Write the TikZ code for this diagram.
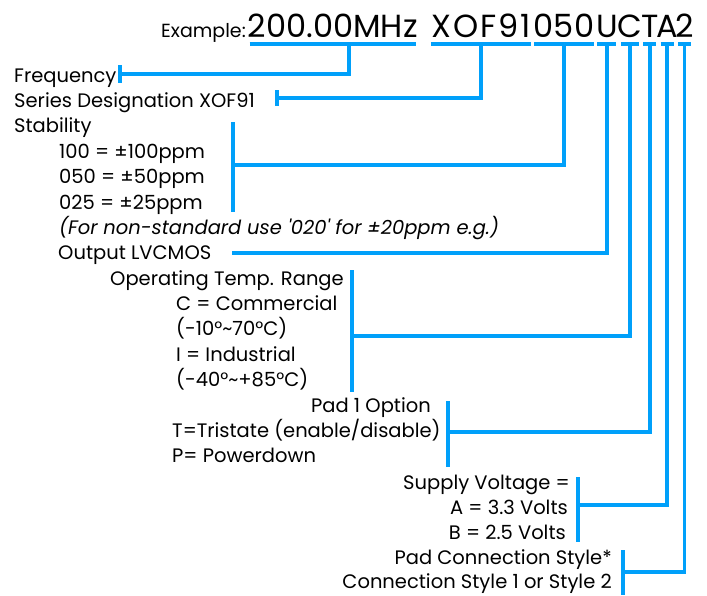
\documentclass[tikz,border=0pt]{standalone}
\usepackage{fontspec}
\setmainfont{Poppins}[Ligatures=TeXOff]
\usetikzlibrary{calc}
\definecolor{cblue}{RGB}{0,160,250}
\begin{document}
\begin{tikzpicture}[x=1pt,y=-1pt,
  lbl/.style={inner sep=0pt, anchor=base west, font=\fontsize{19.5}{22}\selectfont},
  lblr/.style={lbl, anchor=base east},
  code/.style={inner xsep=0pt, inner ysep=7pt, text depth=0pt, anchor=base west, font=\fontsize{32}{36}\selectfont},
  ln/.style={draw=cblue, line width=3.6pt},
]
\useasboundingbox (0,0) rectangle (707,595);
% part number
\node[code] (s1) at (248,37) {\makebox[169pt]{200.00MHz}};
\node[code] (s2) at ($(s1.base east)+(12,0)$) {\makebox[103pt]{\addfontfeature{LetterSpace=6}XOF91}};
\node[code] (s3) at (s2.base east) {\makebox[62pt]{050}};
\node[code] (s4) at (s3.base east) {\makebox[23pt]{U}};
\node[code] (s5) at (s4.base east) {\makebox[22pt]{C}};
\node[code] (s6) at (s5.base east) {\makebox[17pt]{T}};
\node[code] (s7) at (s6.base east) {\makebox[17pt]{A}};
\node[code] (s8) at (s7.base east) {\makebox[17pt]{2}};
\node[lbl, anchor=base east, font=\fontsize{19}{22}\selectfont] (ex) at ($(s1.base west)+(-2,0)$) {Example:};
\foreach \s in {s1,s2,s3}
  \draw[ln] ([xshift=1.5pt]\s.south west) -- ([xshift=-1.5pt]\s.south east);
\foreach \s in {s4,s5,s6,s7,s8}
  \draw[ln] ([xshift=2.2pt]\s.south west) -- ([xshift=-2.2pt]\s.south east);
% labels
\node[lbl] (fq) at (14,82) {Frequency};
\node[lbl] (sd) at (14,107) {Series Designation XOF91};
\node[lbl] (st) at (14,132) {Stability};
\node[lbl] (st1) at (59,158) {100 = ±100ppm};
\node[lbl] (st2) at (59,183) {050 = ±50ppm};
\node[lbl] (st3) at (59,209) {025 = ±25ppm};
\node[lbl] (st4) at (59,234) {\itshape (For non-standard use '020' for ±20ppm e.g.)};
\node[lbl] (out) at (58,259) {Output LVCMOS};
\node[lbl] (tp) at (110,285) {Operating Temp. Range};
\node[lbl] (tp1) at (176,310) {C = Commercial};
\node[lbl] (tp2) at (176,335) {(-10°\textasciitilde70°C)};
\node[lbl] (tp3) at (176,361) {I = Industrial};
\node[lbl] (tp4) at (176,386) {(-40°\textasciitilde+85°C)};
\node[lblr] (pd) at (431,412) {Pad 1 Option};
\node[lbl] (pd1) at (172,437) {T=Tristate (enable/disable)};
\node[lbl] (pd2) at (172,462) {P= Powerdown};
\node[lblr] (sv) at (570,489) {Supply Voltage =};
\node[lblr] (sv1) at (568,514) {A = 3.3 Volts};
\node[lblr] (sv2) at (566,539) {B = 2.5 Volts};
\node[lblr] (pc) at (612,564) {Pad Connection Style*};
\node[lblr] (pc1) at (612,588) {Connection Style 1 or Style 2};
% bars / ticks
\coordinate (fqt) at (120,74);
\coordinate (sdt) at (277,98);
\coordinate (stb) at (233,165);
\coordinate (outc) at (232,253);
\coordinate (tmp) at (352,336);
\coordinate (pad) at (448,432);
\coordinate (sup) at (578,505);
\coordinate (pcs) at (623,572);
\draw[ln] ($(fqt)+(0,-9)$) -- ($(fqt)+(0,9)$);
\draw[ln] ($(sdt)+(0,-8)$) -- ($(sdt)+(0,8)$);
\draw[ln] ($(stb)+(0,-43)$) -- ($(stb)+(0,47)$);
\draw[ln] ($(tmp)+(0,-66)$) -- ($(tmp)+(0,56)$);
\draw[ln] ($(pad)+(0,-31)$) -- ($(pad)+(0,35)$);
\draw[ln] ($(sup)+(0,-28)$) -- ($(sup)+(0,37)$);
\draw[ln] ($(pcs)+(0,-22)$) -- ($(pcs)+(0,23)$);
% connectors
\draw[ln] (fqt) -| ([xshift=16pt]s1.south);
\draw[ln] (sdt) -| (s2.south);
\draw[ln] (stb) -| (s3.south);
\draw[ln] (outc) -| (s4.south);
\draw[ln] (tmp) -| (s5.south);
\draw[ln] (pad) -| (s6.south);
\draw[ln] (sup) -| (s7.south);
\draw[ln] (pcs) -| (s8.south);
\end{tikzpicture}
\end{document}
